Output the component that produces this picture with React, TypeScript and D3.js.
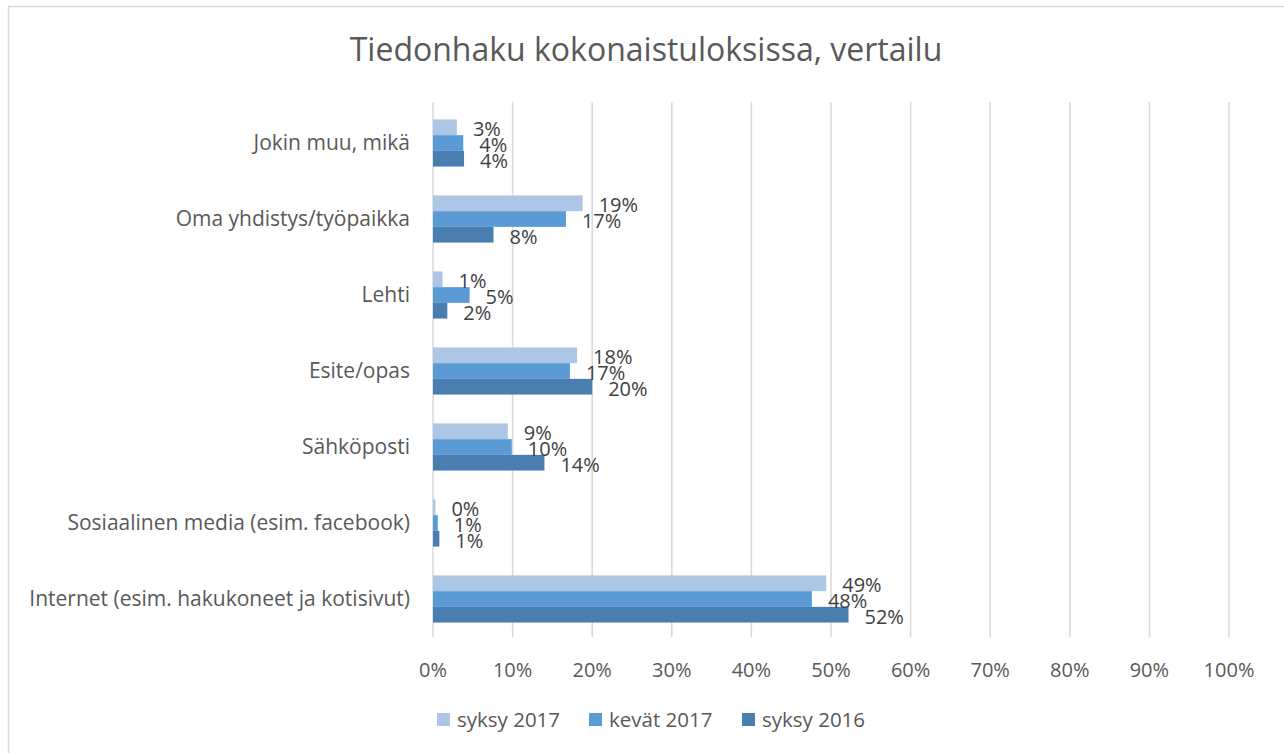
// @ts-nocheck
import React, { useEffect, useRef } from "react";
import * as d3 from "d3";

const categories = [
  "Jokin muu, mikä",
  "Oma yhdistys/työpaikka",
  "Lehti",
  "Esite/opas",
  "Sähköposti",
  "Sosiaalinen media (esim. facebook)",
  "Internet (esim. hakukoneet ja kotisivut)",
];
const seriesNames = ["syksy 2017", "kevät 2017", "syksy 2016"];
const syksy2017 = [0.03, 0.188, 0.012, 0.181, 0.094, 0.003, 0.494];
const kevat2017 = [0.038, 0.167, 0.046, 0.172, 0.099, 0.006, 0.476];
const syksy2016 = [0.039, 0.076, 0.018, 0.2, 0.14, 0.008, 0.522];
const xTicks = [0, 0.1, 0.2, 0.3, 0.4, 0.5, 0.6, 0.7, 0.8, 0.9, 1];
const colors = ["#ADC6E5", "#5B9BD5", "#4A7EB1"];

const FONT = "'Open Sans', 'Liberation Sans', sans-serif";

function App() {
  const ref = useRef(null);

  useEffect(() => {
    const W = 1284,
      H = 753;
    const svg = d3.select(ref.current);
    svg.selectAll("*").remove();

    const values = [syksy2017, kevat2017, syksy2016];
    const rows = categories.map((c, i) => ({
      cat: c,
      vals: seriesNames.map((s, k) => ({ s, k, v: values[k][i] })),
    }));

    // chart area border
    svg
      .append("rect")
      .attr("x", 8.5)
      .attr("y", 6.5)
      .attr("width", W + 10)
      .attr("height", H + 10)
      .attr("fill", "#fff")
      .attr("stroke", "#D9D9D9")
      .attr("stroke-width", 1.5);

    // title
    svg
      .append("text")
      .attr("x", 646)
      .attr("y", 61)
      .attr("text-anchor", "middle")
      .style("font-family", FONT)
      .style("font-size", "32px")
      .attr("fill", "#595959")
      .text("Tiedonhaku kokonaistuloksissa, vertailu");

    const x = d3.scaleLinear().domain([0, 1]).range([433, 1229]);
    const y = d3
      .scaleBand()
      .domain(categories)
      .range([105, 637])
      .paddingInner(0.38)
      .paddingOuter(0.19);
    const ys = d3.scaleBand().domain(seriesNames).range([0, y.bandwidth()]);

    // gridlines
    svg
      .append("g")
      .selectAll("line")
      .data(xTicks)
      .enter()
      .append("line")
      .attr("x1", (d) => x(d))
      .attr("x2", (d) => x(d))
      .attr("y1", 102)
      .attr("y2", 637)
      .attr("stroke", "#D9D9D9")
      .attr("stroke-width", 1.5);

    // x tick labels
    svg
      .append("g")
      .selectAll("text")
      .data(xTicks)
      .enter()
      .append("text")
      .attr("x", (d) => x(d))
      .attr("y", 677)
      .attr("text-anchor", "middle")
      .style("font-family", FONT)
      .style("font-size", "20px")
      .attr("fill", "#595959")
      .text((d) => d3.format(".0%")(d));

    // category labels
    svg
      .append("g")
      .selectAll("text")
      .data(categories)
      .enter()
      .append("text")
      .attr("x", 410)
      .attr("y", (d) => y(d) + y.bandwidth() / 2)
      .attr("dy", "0.35em")
      .attr("text-anchor", "end")
      .style("font-family", FONT)
      .style("font-size", "21px")
      .attr("fill", "#595959")
      .text((d) => d);

    // bars
    const groups = svg
      .append("g")
      .selectAll("g")
      .data(rows)
      .enter()
      .append("g")
      .attr("transform", (d) => "translate(0," + y(d.cat) + ")");

    groups
      .selectAll("rect")
      .data((d) => d.vals)
      .enter()
      .append("rect")
      .attr("x", x(0))
      .attr("y", (d) => ys(d.s))
      .attr("width", (d) => x(d.v) - x(0))
      .attr("height", ys.bandwidth())
      .attr("fill", (d) => colors[d.k]);

    // data labels
    groups
      .selectAll("text")
      .data((d) => d.vals)
      .enter()
      .append("text")
      .attr("x", (d) => x(d.v) + 16)
      .attr("y", (d) => ys(d.s) + ys.bandwidth() / 2 + 2)
      .attr("dy", "0.35em")
      .style("font-family", FONT)
      .style("font-size", "20px")
      .attr("fill", "#404040")
      .text((d) => d3.format(".0%")(d.v));

    // legend
    const legX = [437, 589, 742];
    const leg = svg
      .append("g")
      .selectAll("g")
      .data(seriesNames)
      .enter()
      .append("g")
      .attr("transform", (d, i) => "translate(" + legX[i] + ",713)");
    leg
      .append("rect")
      .attr("width", 13)
      .attr("height", 13)
      .attr("fill", (d, i) => colors[i]);
    leg
      .append("text")
      .attr("x", 20)
      .attr("y", 6.5)
      .attr("dy", "0.35em")
      .style("font-family", FONT)
      .style("font-size", "20.5px")
      .attr("fill", "#595959")
      .text((d) => d);
  }, []);

  return (
    <div style={{ position: "absolute", left: 0, top: 0 }}>
      <svg ref={ref} width={1284} height={753}></svg>
    </div>
  );
}

export default App;
